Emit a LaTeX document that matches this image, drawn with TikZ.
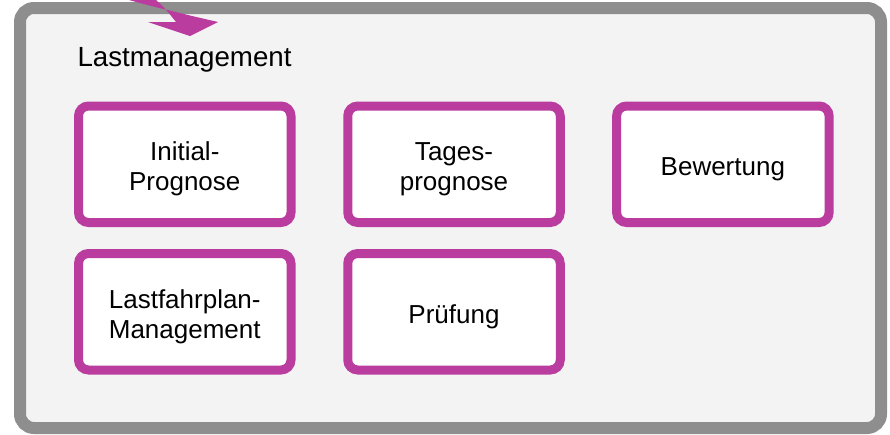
\documentclass[tikz,border=0pt]{standalone}
\usepackage{fontspec}
\setmainfont{Liberation Sans}
\definecolor{framegray}{HTML}{8E8E8E}
\definecolor{panelfill}{HTML}{F3F3F3}
\definecolor{boxmagenta}{HTML}{B93C9E}
\tikzset{
  panel/.style={draw=framegray, fill=panelfill, line width=12pt, rounded corners=14pt},
  taskbox/.style={draw=boxmagenta, fill=white, line width=9pt, rounded corners=10pt,
    minimum width=212.5pt, minimum height=116.5pt, inner sep=0pt},
  tasktext/.style={align=center, font=\fontsize{26}{30}\selectfont, inner sep=0pt},
  paneltitle/.style={anchor=base west, font=\fontsize{27.7}{32}\selectfont, inner sep=0pt}
}
\begin{document}
\begin{tikzpicture}[x=1pt, y=-1pt]
  \useasboundingbox (0,0) rectangle (890,434);
  % outer panel
  \draw[panel] (20,8) rectangle (881,428);
  % incoming arrow from above
  \fill[boxmagenta] (129,0) .. controls (150,6) and (172,11) .. (192,16)
    -- (218,22) -- (190,36) -- (148,22) -- (176,22)
    .. controls (169,13) and (163,6) .. (156,0) -- cycle;
  \node[paneltitle] (title) at (77.3,66.7) {Lastmanagement};
  % task boxes
  \node[taskbox] (initial) at (184.75,164.25) {};
  \node[taskbox] (tages)   at (454,164.25)    {};
  \node[taskbox] (bewert)  at (722.85,164.25) {};
  \node[taskbox] (lastfp)  at (184.75,311.75) {};
  \node[taskbox] (pruef)   at (454,311.75)    {};
  % box captions, set a little below each box centre
  \node[tasktext] (initialtxt) at ([yshift=-5pt]initial.center) {Initial-\\Prognose};
  \node[tasktext] (tagestxt)   at ([yshift=-5pt]tages.center)   {Tages-\\prognose};
  \node[tasktext] (bewerttxt)  at ([yshift=-5pt]bewert.center)  {Bewertung};
  \node[tasktext] (lastfptxt)  at ([yshift=-5pt]lastfp.center)  {Lastfahrplan-\\Management};
  \node[tasktext] (prueftxt)   at ([yshift=-5pt]pruef.center)   {Prüfung};
\end{tikzpicture}
\end{document}
